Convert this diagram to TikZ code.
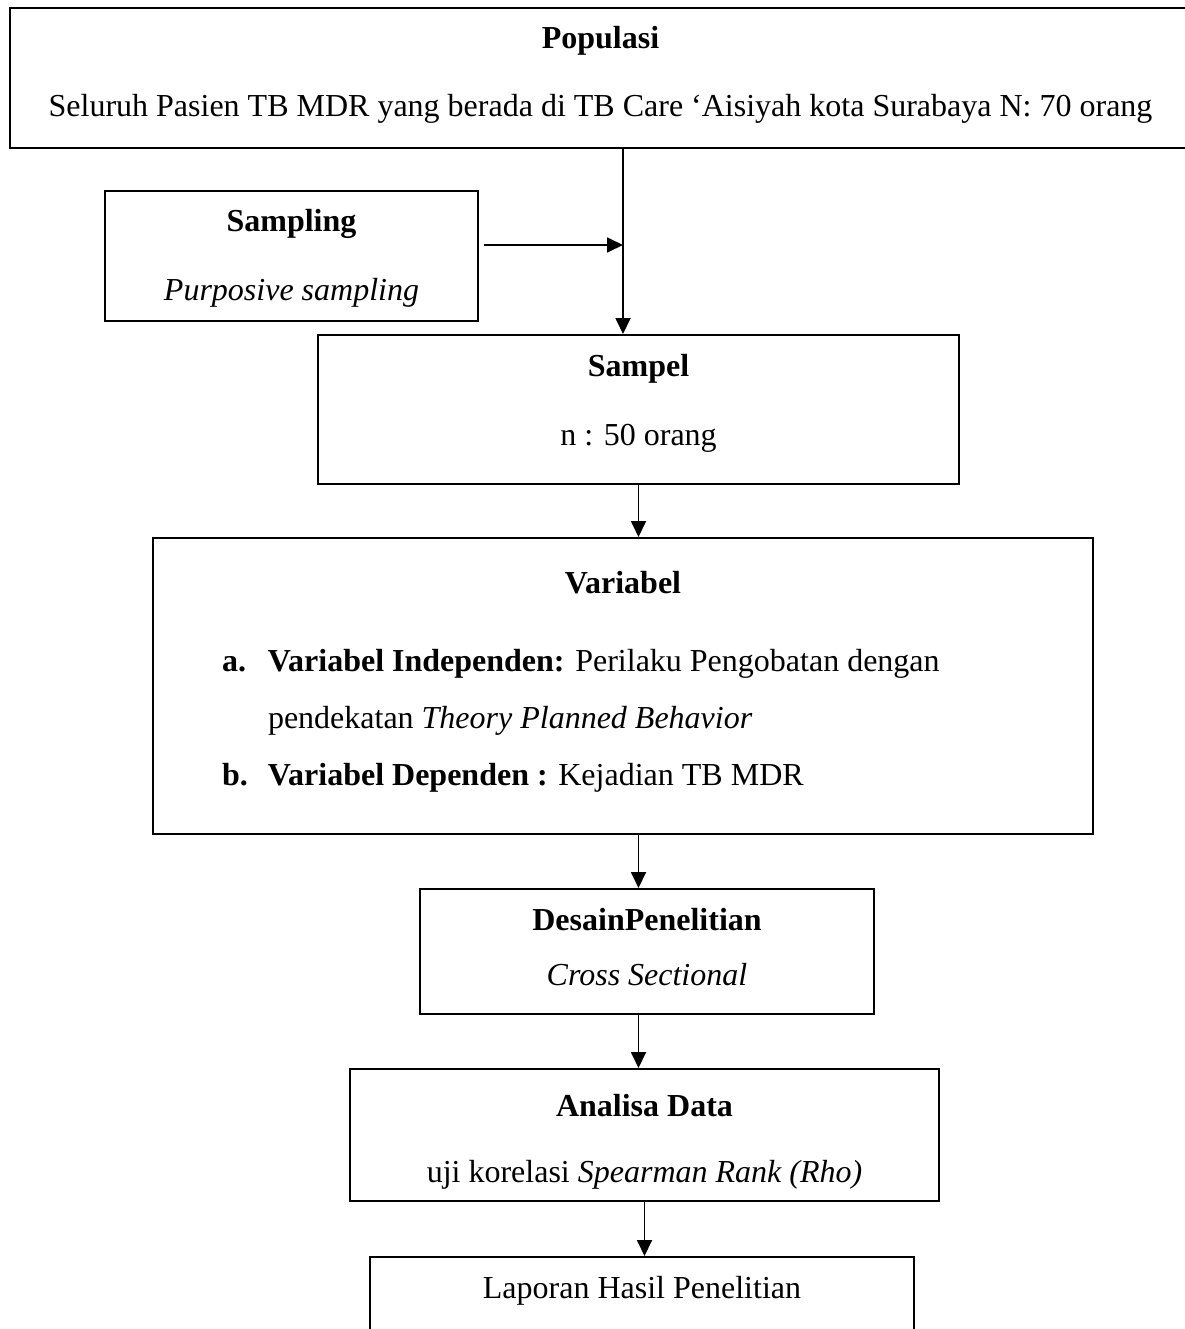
\documentclass[tikz,border=0pt]{standalone}
\usepackage{fontspec}
\setmainfont{Liberation Serif}
\usetikzlibrary{arrows.meta, positioning}
\newcommand{\bigtext}{\fontsize{32}{57}\selectfont}
\tikzset{
  box/.style={rectangle,draw,line width=2pt,inner sep=0pt,anchor=north west},
  ttl/.style={anchor=base,inner sep=0pt,font=\bigtext\bfseries},
  txt/.style={anchor=base,inner sep=0pt,font=\bigtext},
  line/.style={-{Triangle[length=16pt,width=15pt]},line width=1.8pt}
}

\begin{document}
\begin{tikzpicture}[x=1pt,y=-1pt]
\useasboundingbox (0,0) rectangle (1184,1329);
% boxes
\node[box, minimum width=1181pt, minimum height=140pt] (pop) at (9,7) {};
\node[box, minimum width=373pt, minimum height=130pt] (sampling) at (104,190) {};
\node[box, minimum width=641pt, minimum height=149pt] (sampel) at (317,334) {};
\node[box, minimum width=940pt, minimum height=296pt] (variabel) at (152,537) {};
\node[box, minimum width=454pt, minimum height=125pt] (desain) at (419,888) {};
\node[box, minimum width=589pt, minimum height=132pt] (analisa) at (349,1068) {};
\node[box, minimum width=544pt, minimum height=100pt] (laporan) at (369,1256) {};
% texts
\node[ttl] (poptitle) at ([yshift=-42pt]pop.north) {Populasi};
\node[txt] (popbody) at ([yshift=-68pt]poptitle.base) {Seluruh Pasien TB MDR yang berada di TB Care ‘Aisiyah kota Surabaya N: 70 orang};
\node[ttl] (samplingtitle) at ([yshift=-42pt]sampling.north) {Sampling};
\node[txt] (samplingbody) at ([yshift=-69pt]samplingtitle.base) {\itshape Purposive sampling};
\node[ttl] (sampeltitle) at ([yshift=-42pt]sampel.north) {Sampel};
\node[txt] (sampelbody) at ([yshift=-69pt]sampeltitle.base) {n : 50 orang};
\node[ttl] (variabeltitle) at ([yshift=-56pt]variabel.north) {Variabel};
\node[txt, anchor=base west] (variabellist) at ([xshift=70pt,yshift=-134pt]variabel.north west) {%
  \begin{tabular}[t]{@{}l@{\hspace{20pt}}l@{}}
  \textbf{a.} & \textbf{Variabel Independen:} Perilaku Pengobatan dengan\\
   & pendekatan \textit{Theory Planned Behavior}\\
  \textbf{b.} & \textbf{Variabel Dependen :} Kejadian TB MDR
  \end{tabular}};
\node[ttl] (desaintitle) at ([yshift=-42pt]desain.north) {DesainPenelitian};
\node[txt] (desainbody) at ([yshift=-55pt]desaintitle.base) {\itshape Cross Sectional};
\node[ttl] (analisatitle) at ([yshift=-48pt]analisa.north) {Analisa Data};
\node[txt] (analisabody) at ([yshift=-66pt]analisatitle.base) {uji korelasi \textit{Spearman Rank (Rho)}};
\node[txt] (laporantext) at ([yshift=-42pt]laporan.north) {Laporan Hasil Penelitian};
% arrows
\coordinate (jn) at (623,245);
\draw[line] (pop.south -| jn) -- (sampel.north -| jn);
\draw[line] ([xshift=5pt]sampling.east |- jn) -- (jn);
\draw[line] (sampel.south) -- (variabel.north -| sampel.south);
\draw[line] (variabel.south -| sampel.south) -- (desain.north -| sampel.south);
\draw[line] (desain.south -| sampel.south) -- (analisa.north -| sampel.south);
\draw[line] (analisa.south) -- (laporan.north -| analisa.south);
\end{tikzpicture}
\end{document}
